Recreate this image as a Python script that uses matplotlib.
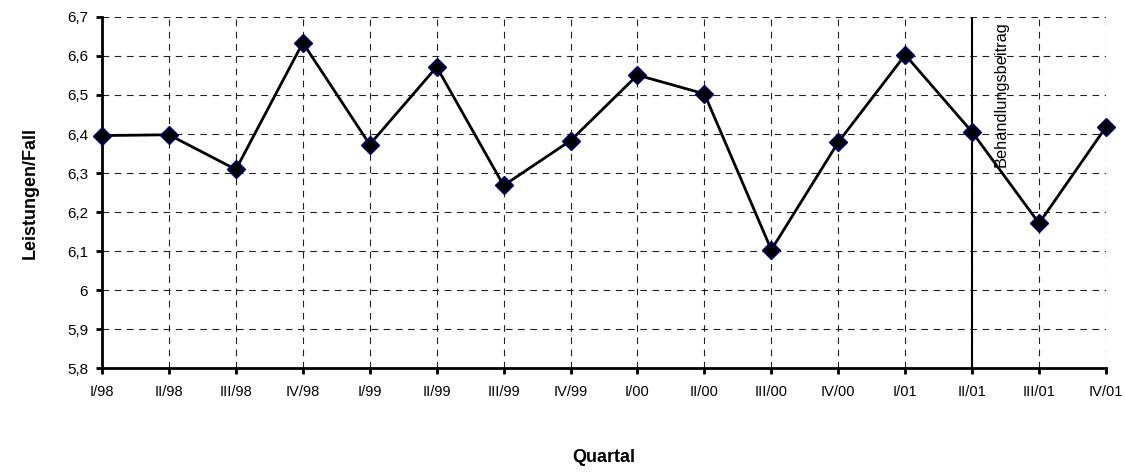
import matplotlib
matplotlib.use('Agg')
import matplotlib.pyplot as plt

# quarterly values
quarters = ['I/98', 'II/98', 'III/98', 'IV/98', 'I/99', 'II/99', 'III/99', 'IV/99',
            'I/00', 'II/00', 'III/00', 'IV/00', 'I/01', 'II/01', 'III/01', 'IV/01']
values = [6.396, 6.398, 6.309, 6.634, 6.373, 6.572, 6.268, 6.383,
          6.551, 6.503, 6.103, 6.379, 6.603, 6.405, 6.171, 6.418]
y_ticks = [5.8, 5.9, 6.0, 6.1, 6.2, 6.3, 6.4, 6.5, 6.6, 6.7]
y_tick_labels = ['5,8', '5,9', '6', '6,1', '6,2', '6,3', '6,4', '6,5', '6,6', '6,7']
marker_quarter = 'II/01'
marker_text = 'Behandlungsbeitrag'

plt.rcParams['font.family'] = ['Liberation Sans', 'DejaVu Sans']

fig = plt.figure(figsize=(11.25, 4.72), dpi=100)
ax = fig.add_axes([0.0907, 0.2203, 0.8924, 0.7437])

x = list(range(len(quarters)))
ax.plot(x, values, color='black', lw=2, marker='D', ms=9, clip_on=False,
        markerfacecolor='black', markeredgecolor='#000080', markeredgewidth=1, zorder=3)

# vertical marker line
mx = quarters.index(marker_quarter)
ax.axvline(mx, color='black', lw=1.5, zorder=2)
ax.text(mx + 0.44, 6.69, marker_text, rotation=90, ha='center', va='top', fontsize=11.8)

ax.set_xlim(0, len(quarters) - 1)
ax.set_ylim(5.8, 6.7)
ax.set_xticks(x)
ax.set_xticklabels(quarters, fontsize=10.5)
ax.set_yticks(y_ticks)
ax.set_yticklabels(y_tick_labels, fontsize=11)

ax.grid(True, color='#222222', lw=0.8, linestyle=(0, (6, 5)))
ax.spines['top'].set_visible(False)
ax.spines['right'].set_visible(False)
ax.spines['left'].set_linewidth(2)
ax.spines['bottom'].set_linewidth(2)
ax.tick_params(axis='both', direction='out', length=4, width=2)
ax.tick_params(axis='x', pad=8)
ax.tick_params(axis='y', pad=6)

ax.set_ylabel('Leistungen/Fall', fontsize=13, fontweight='bold', labelpad=20)
ax.set_xlabel('Quartal', fontsize=13, fontweight='bold', labelpad=36)

plt.savefig('out.png', dpi=100)
